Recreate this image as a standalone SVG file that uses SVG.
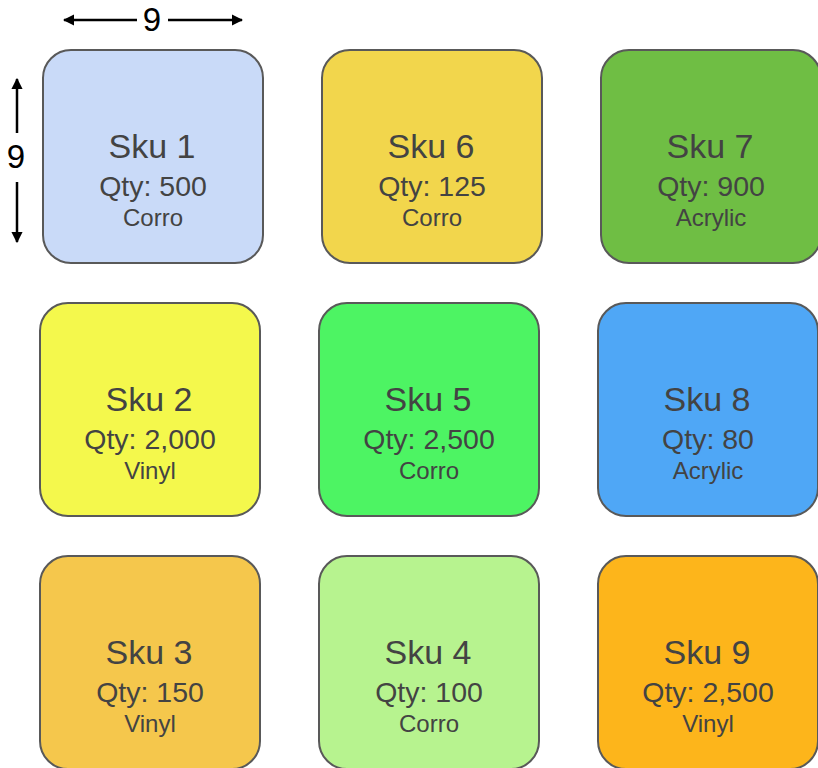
<svg xmlns="http://www.w3.org/2000/svg" width="818" height="768" viewBox="0 0 818 768">
<style>
.box{stroke:#595959;stroke-width:2}
.t{font-family:"Liberation Sans",Arial,sans-serif;fill:#434343;text-anchor:middle}
.a{font-size:34px}.b{font-size:28.5px}.c{font-size:24px}
.dim{stroke:#000;stroke-width:2.5;fill:none}
.dt{font-family:"Liberation Sans",Arial,sans-serif;font-size:33px;fill:#000;text-anchor:middle}
</style>
<defs>
<marker id="ah" viewBox="0 0 10 10" refX="9" refY="5" markerWidth="4.5" markerHeight="4.5" orient="auto-start-reverse" markerUnits="strokeWidth">
<path d="M0,0 L10,5 L0,10 z" fill="#000"/>
</marker>
</defs>
<g id="dims">
<line class="dim" x1="64" y1="20" x2="137" y2="20" marker-start="url(#ah)"/>
<line class="dim" x1="168" y1="20" x2="242" y2="20" marker-end="url(#ah)"/>
<text class="dt" x="152" y="31">9</text>
<line class="dim" x1="17" y1="79" x2="17" y2="133" marker-start="url(#ah)"/>
<line class="dim" x1="17" y1="182" x2="17" y2="242" marker-end="url(#ah)"/>
<text class="dt" x="16" y="168">9</text>
</g>
<g id="sku1"><rect class="box" x="43" y="50" width="220" height="213" rx="28" fill="#c9daf8"/>
<text class="t a" x="152" y="158">Sku 1</text><text class="t b" x="153" y="196">Qty: 500</text><text class="t c" x="153" y="226">Corro</text></g>
<g id="sku6"><rect class="box" x="322" y="50" width="220" height="213" rx="28" fill="#f2d64c"/>
<text class="t a" x="431" y="158">Sku 6</text><text class="t b" x="432" y="196">Qty: 125</text><text class="t c" x="432" y="226">Corro</text></g>
<g id="sku7"><rect class="box" x="601" y="50" width="220" height="213" rx="28" fill="#6fbe44"/>
<text class="t a" x="710" y="158">Sku 7</text><text class="t b" x="711" y="196">Qty: 900</text><text class="t c" x="711" y="226">Acrylic</text></g>
<g id="sku2"><rect class="box" x="40" y="303" width="220" height="213" rx="28" fill="#f4f84c"/>
<text class="t a" x="149" y="411">Sku 2</text><text class="t b" x="150" y="449">Qty: 2,000</text><text class="t c" x="150" y="479">Vinyl</text></g>
<g id="sku5"><rect class="box" x="319" y="303" width="220" height="213" rx="28" fill="#4df463"/>
<text class="t a" x="428" y="411">Sku 5</text><text class="t b" x="429" y="449">Qty: 2,500</text><text class="t c" x="429" y="479">Corro</text></g>
<g id="sku8"><rect class="box" x="598" y="303" width="220" height="213" rx="28" fill="#4fa7f6"/>
<text class="t a" x="707" y="411">Sku 8</text><text class="t b" x="708" y="449">Qty: 80</text><text class="t c" x="708" y="479">Acrylic</text></g>
<g id="sku3"><rect class="box" x="40" y="556" width="220" height="213" rx="28" fill="#f5c74c"/>
<text class="t a" x="149" y="664">Sku 3</text><text class="t b" x="150" y="702">Qty: 150</text><text class="t c" x="150" y="732">Vinyl</text></g>
<g id="sku4"><rect class="box" x="319" y="556" width="220" height="213" rx="28" fill="#b7f38f"/>
<text class="t a" x="428" y="664">Sku 4</text><text class="t b" x="429" y="702">Qty: 100</text><text class="t c" x="429" y="732">Corro</text></g>
<g id="sku9"><rect class="box" x="598" y="556" width="220" height="213" rx="28" fill="#fdb51b"/>
<text class="t a" x="707" y="664">Sku 9</text><text class="t b" x="708" y="702">Qty: 2,500</text><text class="t c" x="708" y="732">Vinyl</text></g>
</svg>
